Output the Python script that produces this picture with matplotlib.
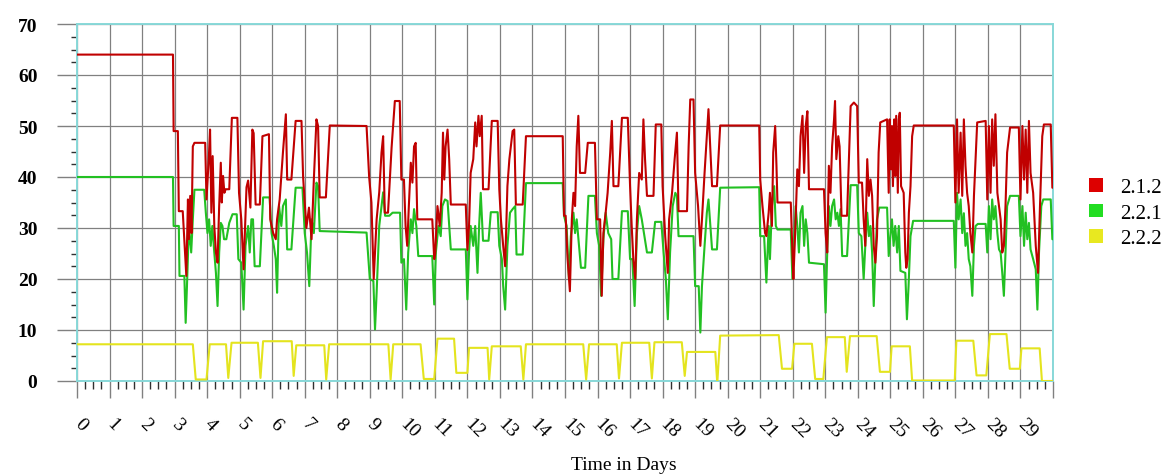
import matplotlib
matplotlib.use("Agg")
import matplotlib.pyplot as plt
from matplotlib.patches import Patch
from matplotlib.ticker import MultipleLocator

plt.rcParams["font.family"] = ["Liberation Serif", "DejaVu Serif"]

# ---- series: (day, value) breakpoints ----
s212 = [
    (0, 64), (2.95, 64), (2.97, 49), (3.1, 49), (3.13, 33.3), (3.25, 33.3), (3.36, 20.6),
    (3.41, 35.6), (3.44, 27.8), (3.48, 36.3), (3.52, 29), (3.56, 46), (3.61, 46.7), (3.94, 46.7),
    (3.98, 35.6), (4.05, 43.5), (4.09, 49.3), (4.13, 33), (4.17, 44.1), (4.22, 30.4), (4.27, 25.2),
    (4.32, 23.2), (4.37, 34.3), (4.42, 42.8), (4.45, 35), (4.49, 40.2), (4.53, 36.9), (4.57, 37.6),
    (4.68, 37.6), (4.76, 51.6), (4.93, 51.6), (4.98, 36.9), (5.05, 31.7), (5.12, 21.9), (5.21, 38),
    (5.26, 39.3), (5.33, 34), (5.39, 49.3), (5.43, 48.6), (5.49, 34.6), (5.62, 34.6), (5.70, 48),
    (5.90, 48.4), (5.94, 31.7), (6.03, 29), (6.11, 27.8), (6.15, 31.7), (6.23, 35.6), (6.33, 44.8),
    (6.42, 52.3), (6.46, 39.5), (6.59, 39.5), (6.72, 51), (6.90, 51), (6.95, 40), (7.05, 30),
    (7.13, 34), (7.21, 27.8), (7.28, 39.5), (7.36, 51.3), (7.41, 50), (7.46, 36), (7.65, 36),
    (7.77, 50.1), (8.90, 50), (8.98, 40), (9.05, 35), (9.12, 20), (9.21, 31.7), (9.29, 37),
    (9.36, 44.8), (9.41, 48), (9.46, 33), (9.56, 33), (9.67, 45.8), (9.77, 54.9), (9.92, 54.9),
    (9.97, 39.5), (10.05, 39.5), (10.1, 30.4), (10.15, 26.5), (10.2, 34.3), (10.26, 42.8),
    (10.31, 38.9), (10.36, 46), (10.41, 46.7), (10.46, 31.7), (10.92, 31.7), (10.98, 23.9),
    (11.01, 25), (11.08, 34.3), (11.15, 30.4), (11.21, 36.9), (11.25, 48.7), (11.29, 39.5),
    (11.33, 46), (11.39, 49.3), (11.44, 43.5), (11.49, 34.6), (11.95, 34.6), (12.0, 25.7),
    (12.05, 30.4), (12.1, 40.8), (12.18, 43.5), (12.24, 50.7), (12.28, 46), (12.34, 52),
    (12.38, 48), (12.44, 52), (12.48, 37.6), (12.65, 37.6), (12.75, 51), (12.93, 51),
    (12.98, 37.6), (13.03, 31.7), (13.1, 26.5), (13.16, 22.5), (13.23, 38.2), (13.29, 43.5),
    (13.39, 49), (13.44, 49.3), (13.49, 34.6), (13.7, 34.6), (13.8, 48), (14.93, 48),
    (14.97, 32.4), (15.02, 32.4), (15.08, 23.9), (15.15, 17.6), (15.21, 31.7), (15.26, 36.9),
    (15.31, 34.3), (15.36, 46), (15.41, 52), (15.46, 40.8), (15.62, 40.8), (15.7, 46.7),
    (15.92, 46.7), (15.98, 31.7), (16.08, 31.7), (16.13, 16.7), (16.18, 29), (16.25, 33),
    (16.31, 36.9), (16.39, 44.8), (16.44, 51), (16.49, 38.2), (16.64, 38.2), (16.75, 51.6),
    (16.93, 51.6), (17.0, 38.2), (17.05, 30.4), (17.1, 23.9), (17.16, 20), (17.21, 31.7),
    (17.28, 40.8), (17.36, 39.5), (17.41, 51.3), (17.46, 43.5), (17.52, 36.3), (17.72, 36.3),
    (17.79, 50.3), (17.96, 50.3), (18.0, 38.2), (18.08, 28.4), (18.16, 21.2), (18.2, 31.7),
    (18.29, 36.9), (18.37, 43.5), (18.44, 48.7), (18.49, 33.3), (18.75, 33.3), (18.8, 46),
    (18.85, 55.2), (18.95, 55.2), (19.0, 40.8), (19.09, 34.3), (19.16, 26.5), (19.21, 31.7),
    (19.29, 40.8), (19.36, 48), (19.41, 53.3), (19.47, 44.8), (19.52, 38.2), (19.67, 38.2),
    (19.77, 50.1), (20.97, 50.1), (21.0, 39.5), (21.07, 34.3), (21.15, 29), (21.19, 28.4),
    (21.26, 33), (21.3, 36.9), (21.36, 30.4), (21.4, 44.8), (21.46, 50), (21.5, 42.2),
    (21.53, 35), (21.94, 35), (21.99, 25.2), (22.02, 20), (22.09, 31.7), (22.14, 41.5),
    (22.19, 38.2), (22.24, 48), (22.3, 52), (22.35, 40.8), (22.4, 50), (22.45, 52.9),
    (22.5, 37.6), (22.96, 37.6), (23.01, 29), (23.06, 25.2), (23.11, 42.2), (23.16, 36.9),
    (23.21, 46), (23.27, 51.3), (23.3, 54.9), (23.34, 43.5), (23.4, 48), (23.44, 46),
    (23.5, 32.4), (23.67, 32.4), (23.78, 53.9), (23.88, 54.6), (23.98, 53.9), (24.03, 38.9),
    (24.13, 38.9), (24.18, 31.7), (24.23, 26.5), (24.29, 43.5), (24.34, 36.3), (24.39, 39.5),
    (24.44, 36.3), (24.49, 26.5), (24.54, 23.2), (24.59, 28.4), (24.64, 44.8), (24.69, 50.7),
    (24.9, 51.3), (24.95, 36.9), (24.98, 51.3), (25.02, 41.5), (25.05, 50), (25.08, 38.2),
    (25.12, 51.3), (25.15, 40.2), (25.18, 52), (25.23, 36.9), (25.26, 51.3), (25.29, 52.6),
    (25.33, 38.2), (25.41, 36.9), (25.46, 25.2), (25.49, 22.2), (25.53, 23.9), (25.57, 33),
    (25.62, 38.2), (25.67, 48), (25.72, 50.1), (26.95, 50.1), (27.0, 35), (27.05, 51.3),
    (27.1, 36.9), (27.16, 48.7), (27.21, 36.3), (27.26, 51.3), (27.31, 42.2), (27.36, 36.9),
    (27.41, 34.3), (27.46, 29), (27.52, 25.2), (27.57, 36.3), (27.62, 43.5), (27.67, 50.7),
    (27.93, 51), (27.98, 35.6), (28.03, 50), (28.08, 36.9), (28.13, 51.3), (28.18, 42.2),
    (28.23, 52.3), (28.29, 36.9), (28.34, 34.3), (28.39, 31.7), (28.44, 25.2), (28.49, 26.5),
    (28.54, 34.3), (28.59, 44.8), (28.68, 49.7), (28.95, 49.7), (29.0, 35.6), (29.06, 50),
    (29.11, 39.5), (29.16, 49.3), (29.21, 36.9), (29.26, 51), (29.31, 40.8), (29.39, 36.9),
    (29.47, 26.5), (29.54, 21.2), (29.6, 34.3), (29.67, 48), (29.72, 50.3), (29.93, 50.3),
    (29.98, 37.9), (30.0, 37.9),
]

s221 = [
    (0, 40), (2.95, 40), (2.97, 30.4), (3.13, 30.4), (3.15, 20.6), (3.3, 20.6), (3.34, 11.4),
    (3.38, 18.6), (3.42, 26.5), (3.46, 29), (3.51, 25.2), (3.56, 31.7), (3.61, 37.5), (3.91, 37.5),
    (3.96, 33), (4.01, 29), (4.06, 31.7), (4.11, 26.5), (4.16, 30.4), (4.22, 25.2), (4.27, 21.2),
    (4.32, 14.7), (4.37, 25.2), (4.42, 31), (4.47, 30.4), (4.52, 27.8), (4.59, 27.8), (4.68, 31),
    (4.78, 32.7), (4.91, 32.7), (4.96, 23.9), (5.05, 23.2), (5.12, 14), (5.18, 26.5), (5.26, 30.4),
    (5.31, 25.2), (5.36, 31.7), (5.41, 31.7), (5.46, 22.5), (5.62, 22.5), (5.72, 36), (5.92, 36),
    (5.98, 29), (6.05, 26.5), (6.11, 23.9), (6.15, 17.3), (6.21, 34.3), (6.28, 30.4), (6.33, 34.3),
    (6.42, 35.6), (6.46, 25.8), (6.59, 25.8), (6.72, 37.9), (6.93, 37.9), (7.0, 29), (7.07, 25.2),
    (7.14, 18.6), (7.21, 31.7), (7.28, 29), (7.36, 38.9), (7.41, 38.2), (7.46, 29.4), (8.9, 29.1),
    (9.0, 20), (9.11, 19.6), (9.16, 10.1), (9.21, 17.3), (9.29, 30.4), (9.36, 34.3), (9.41, 37),
    (9.47, 32.4), (9.6, 32.4), (9.7, 33), (9.93, 33), (9.97, 23.2), (10.05, 23.9), (10.12, 14),
    (10.18, 25.2), (10.26, 31.7), (10.31, 29), (10.36, 33.7), (10.43, 30.4), (10.49, 24.5),
    (10.92, 24.5), (10.98, 15), (11.03, 25.2), (11.11, 30.4), (11.18, 28.4), (11.23, 34.3),
    (11.31, 35.6), (11.39, 35.3), (11.49, 25.8), (11.95, 25.8), (12.0, 16), (12.05, 25.2),
    (12.1, 30.4), (12.18, 26.5), (12.24, 30.4), (12.31, 21.2), (12.36, 30.4), (12.41, 36.9),
    (12.48, 27.5), (12.65, 27.5), (12.72, 33.1), (12.93, 33.1), (12.98, 26.5), (13.06, 23.9),
    (13.1, 18.6), (13.16, 14), (13.23, 26.5), (13.31, 33), (13.39, 33.7), (13.47, 34.3),
    (13.51, 24.8), (13.7, 24.8), (13.8, 38.8), (14.93, 38.8), (14.97, 32.4), (15.05, 30.4),
    (15.12, 20), (15.18, 28.4), (15.26, 33), (15.31, 29), (15.36, 31.7), (15.43, 26.5),
    (15.49, 22.2), (15.62, 22.2), (15.72, 36.3), (15.92, 36.3), (15.98, 29), (16.05, 26.5),
    (16.11, 16.7), (16.18, 27.8), (16.25, 33), (16.33, 29), (16.42, 27.8), (16.46, 20),
    (16.64, 20), (16.75, 33.3), (16.93, 33.3), (17.0, 23.9), (17.07, 23.9), (17.14, 14.7),
    (17.21, 29), (17.28, 34.3), (17.36, 31.7), (17.44, 28.4), (17.52, 25.2), (17.67, 25.2),
    (17.77, 31.2), (17.96, 31.2), (18.03, 25.2), (18.1, 20), (18.16, 12.1), (18.23, 25.2),
    (18.31, 34.3), (18.39, 36.9), (18.44, 36.3), (18.49, 28.4), (18.95, 28.4), (19.0, 18.6),
    (19.11, 18.6), (19.16, 9.5), (19.21, 18.6), (19.29, 26.5), (19.36, 33), (19.41, 35.6),
    (19.47, 30.4), (19.52, 25.8), (19.67, 25.8), (19.77, 37.9), (20.97, 38), (21.0, 28.4),
    (21.12, 28.4), (21.19, 19.3), (21.26, 30.4), (21.3, 23.9), (21.36, 34.3), (21.43, 38.2),
    (21.48, 30.4), (21.53, 29.7), (21.94, 29.7), (21.99, 20), (22.04, 26.5), (22.09, 34.3),
    (22.14, 30.4), (22.19, 25.2), (22.24, 33), (22.3, 34.3), (22.35, 26.5), (22.4, 31.7),
    (22.45, 29), (22.5, 23.2), (22.96, 22.9), (23.01, 13.4), (23.06, 25.2), (23.11, 34.3),
    (23.16, 30.4), (23.21, 34.3), (23.27, 35.6), (23.32, 31.7), (23.37, 33), (23.42, 30.4),
    (23.47, 33.7), (23.52, 24.5), (23.67, 24.5), (23.78, 38.4), (23.98, 38.4), (24.03, 29),
    (24.11, 28.4), (24.18, 20), (24.23, 26.5), (24.29, 33), (24.34, 28.4), (24.39, 30.4),
    (24.44, 25.2), (24.49, 14.7), (24.54, 23.9), (24.59, 31.7), (24.66, 34), (24.9, 34),
    (24.95, 24.5), (25.0, 28.4), (25.05, 31.7), (25.1, 26.5), (25.15, 30.4), (25.21, 25.2),
    (25.26, 30.4), (25.31, 21.6), (25.46, 21.2), (25.51, 12.1), (25.56, 18.6), (25.62, 28.4),
    (25.7, 31.4), (26.95, 31.4), (27.0, 22.2), (27.05, 36.9), (27.1, 31.7), (27.16, 35.6),
    (27.21, 29), (27.26, 32.9), (27.31, 26.5), (27.36, 29), (27.41, 23.9), (27.46, 22.5),
    (27.52, 16.7), (27.57, 26.5), (27.62, 30.4), (27.69, 30.8), (27.93, 30.8), (27.98, 25.2),
    (28.03, 34.3), (28.08, 27.8), (28.13, 35.6), (28.18, 31.7), (28.23, 34.3), (28.29, 29),
    (28.34, 25.8), (28.39, 25.2), (28.44, 21.2), (28.49, 16.7), (28.54, 25.2), (28.59, 34.3),
    (28.68, 36.3), (28.95, 36.3), (29.0, 28.4), (29.06, 34.3), (29.11, 26.5), (29.16, 33),
    (29.21, 27.8), (29.26, 31), (29.31, 25.8), (29.39, 23.9), (29.47, 21.9), (29.52, 14),
    (29.57, 25.2), (29.64, 34.3), (29.7, 35.6), (29.93, 35.6), (29.98, 27.8), (30.0, 27.8),
]

s222 = [
    (0, 7.2), (3.56, 7.2), (3.65, 0.3), (3.98, 0.3), (4.08, 7.2), (4.58, 7.2), (4.65, 0.6),
    (4.75, 7.5), (5.56, 7.5), (5.64, 0.6), (5.72, 7.8), (6.6, 7.8), (6.66, 1.0), (6.74, 7.0),
    (7.6, 7.0), (7.66, 0.3), (7.75, 7.2), (9.57, 7.2), (9.64, 0.3), (9.72, 7.2), (10.56, 7.2),
    (10.66, 0.4), (10.98, 0.4), (11.08, 8.3), (11.59, 8.3), (11.66, 1.6), (12.0, 1.6),
    (12.05, 6.5), (12.62, 6.5), (12.67, 0.3), (12.75, 6.8), (13.64, 6.8), (13.72, 0.3),
    (13.8, 7.2), (15.56, 7.2), (15.65, 0.3), (15.74, 7.2), (16.59, 7.2), (16.66, 0.5),
    (16.75, 7.5), (17.59, 7.5), (17.67, 0.5), (17.75, 7.6), (18.59, 7.6), (18.68, 1.0),
    (18.75, 5.7), (19.62, 5.7), (19.68, -0.5), (19.77, 8.9), (21.57, 9.0), (21.67, 2.4),
    (21.98, 2.4), (22.05, 7.3), (22.59, 7.3), (22.69, 0.4), (22.94, 0.4), (23.05, 8.6),
    (23.6, 8.6), (23.66, 1.8), (23.76, 8.8), (24.58, 8.8), (24.68, 1.8), (24.99, 1.8),
    (25.04, 6.8), (25.6, 6.8), (25.67, 0.1), (26.98, 0.1), (27.03, 7.9), (27.55, 7.9),
    (27.65, 1.1), (27.95, 1.1), (28.06, 9.2), (28.57, 9.2), (28.67, 2.4), (28.98, 2.4),
    (29.03, 6.4), (29.59, 6.4), (29.66, 0), (30.0, 0),
]

series_names = ["2.1.2", "2.2.1", "2.2.2"]
line_colors = ["#c00000", "#22c022", "#e4e41e"]
key_colors = ["#dd0000", "#22dd22", "#e8e820"]
day_labels = [str(d) for d in range(30)]

fig = plt.figure(figsize=(11.74, 4.77), dpi=100)
ax = fig.add_axes([77 / 1174, 1 - 382 / 477, 976 / 1174, 357 / 477])

for data, c in zip([s221, s212, s222], [line_colors[1], line_colors[0], line_colors[2]]):
    t, v = zip(*data)
    ax.plot(t, v, color=c, lw=1.5, zorder=3)

ax.set_xlim(0, 30)
ax.set_ylim(0, 70)

# grid + ticks
ax.set_xticks(range(31))
ax.set_xticklabels(day_labels + [""], rotation=-45, ha="left", va="center",
                   rotation_mode="anchor", fontsize=14)
ax.xaxis.set_minor_locator(MultipleLocator(0.25))
ax.set_yticks(range(0, 71, 10))
ax.set_yticklabels([str(v) for v in range(0, 71, 10)], fontsize=14, fontweight="bold")
ax.yaxis.set_minor_locator(MultipleLocator(2.5))
ax.tick_params(axis="x", which="major", length=12, width=1, color="#808080", pad=17)
ax.tick_params(axis="x", which="minor", length=6, width=1, color="#303030")
ax.tick_params(axis="y", which="major", length=14.5, width=1, color="#808080", pad=14)
ax.tick_params(axis="y", which="minor", length=4, width=1, color="#303030")
ax.grid(True, which="major", color="#808080", lw=0.9, zorder=1)
for s in ax.spines.values():
    s.set_color("#88d8d8")
    s.set_linewidth(1.4)

ax.set_xlabel("Time in Days", fontsize=14, labelpad=6)
ax.xaxis.set_label_coords(0.56, -0.21)

handles = [Patch(facecolor=c, edgecolor="none") for c in key_colors]
fig.legend(handles, series_names, loc="upper left", bbox_to_anchor=(1089 / 1174, 1 - 179 / 477),
           frameon=False, fontsize=15, handlelength=0.65, handleheight=0.65,
           handletextpad=0.85, labelspacing=0.3, borderpad=0, borderaxespad=0)

fig.savefig("out.png", dpi=100, facecolor="white")
